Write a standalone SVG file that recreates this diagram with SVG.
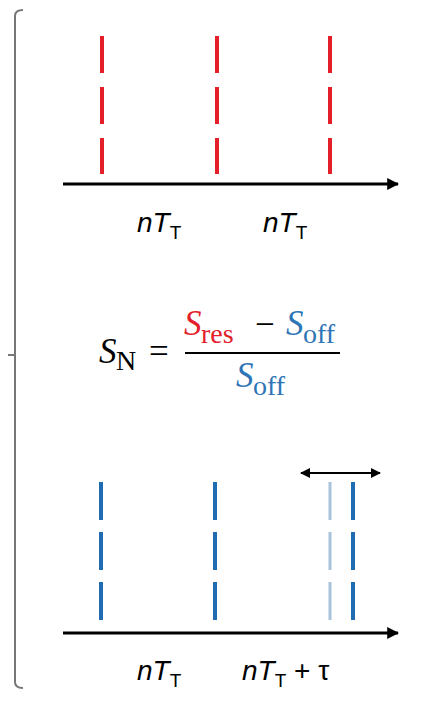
<svg xmlns="http://www.w3.org/2000/svg" width="434" height="701" viewBox="0 0 434 701">
<style>
.red{stroke:#e3202a;stroke-width:4}
.blue{stroke:#1f6cb0;stroke-width:4}
.lblue{stroke:#a9c3da;stroke-width:3}
.axis{stroke:#000;stroke-width:3;fill:none}
.lbl{font-family:"Liberation Sans",Arial,sans-serif;font-style:italic;font-size:28px;fill:#000}
.sub{font-style:normal;font-size:19px}
.m{font-family:"Liberation Serif","Times New Roman",serif;font-size:35px}
.mi{font-style:italic}
.ms{font-size:28px}
</style>
<defs>
<marker id="ah" viewBox="0 0 10 10" refX="9" refY="5" markerWidth="4" markerHeight="5" orient="auto" markerUnits="strokeWidth">
<path d="M0,0 L10,5 L0,10 z" fill="#000"/>
</marker>
<marker id="ah2" viewBox="0 0 10 10" refX="9" refY="5" markerWidth="5" markerHeight="6" orient="auto-start-reverse" markerUnits="strokeWidth">
<path d="M0,0 L10,5 L0,10 z" fill="#000"/>
</marker>
</defs>
<rect width="434" height="701" fill="#fff"/>
<g id="bracket" fill="none" stroke="#777" stroke-width="2">
<path d="M23,10 Q15,10 15,16 L15,682 Q15,688 23,688"/>
<path d="M8,355 L15,355"/>
</g>
<g id="top-panel">
<g id="red-pulses" stroke-dasharray="37,14">
<line class="red" x1="102" y1="36" x2="102" y2="174"/>
<line class="red" x1="217" y1="36" x2="217" y2="174"/>
<line class="red" x1="330" y1="36" x2="330" y2="174"/>
</g>
<g id="top-labels">
<text class="lbl" x="137" y="232">nT<tspan class="sub" dy="7">T</tspan></text>
<text class="lbl" x="263" y="232">nT<tspan class="sub" dy="7">T</tspan></text>
</g>
</g>
<g id="formula" class="m">
<text y="363"><tspan class="mi" x="99">S</tspan><tspan class="ms" x="116" dy="7">N</tspan><tspan dy="-7" x="149">=</tspan></text>
<line x1="185" y1="353" x2="340" y2="353" stroke="#000" stroke-width="2"/>
<text y="335" fill="#e3202a"><tspan class="mi" x="184">S</tspan><tspan class="ms" x="201" dy="8">res</tspan></text>
<text x="255" y="336" fill="#000">−</text>
<text y="335" fill="#2e75b6"><tspan class="mi" x="286">S</tspan><tspan class="ms" x="303" dy="8">off</tspan></text>
<text y="387" fill="#2e75b6"><tspan class="mi" x="236">S</tspan><tspan class="ms" x="253" dy="8">off</tspan></text>
</g>
<g id="bottom-panel">
<g id="blue-pulses" stroke-dasharray="38,12">
<line class="blue" x1="101" y1="482" x2="101" y2="620"/>
<line class="blue" x1="215" y1="482" x2="215" y2="620"/>
<line class="lblue" x1="330" y1="482" x2="330" y2="620"/>
<line class="blue" x1="353" y1="482" x2="353" y2="620"/>
</g>
<g id="bottom-labels">
<text class="lbl" x="137" y="680">nT<tspan class="sub" dy="7">T</tspan></text>
<text class="lbl" x="242" y="680">nT<tspan class="sub" dy="7">T</tspan><tspan dy="-7" style="font-style:normal"> + τ</tspan></text>
</g>
</g>
<g id="connectors">
<line class="axis" x1="63" y1="184" x2="398" y2="184" marker-end="url(#ah)"/>
<line class="axis" x1="63" y1="633" x2="398" y2="633" marker-end="url(#ah)"/>
<line x1="301" y1="473" x2="380" y2="473" stroke="#000" stroke-width="2" marker-start="url(#ah2)" marker-end="url(#ah2)"/>
</g>
</svg>
